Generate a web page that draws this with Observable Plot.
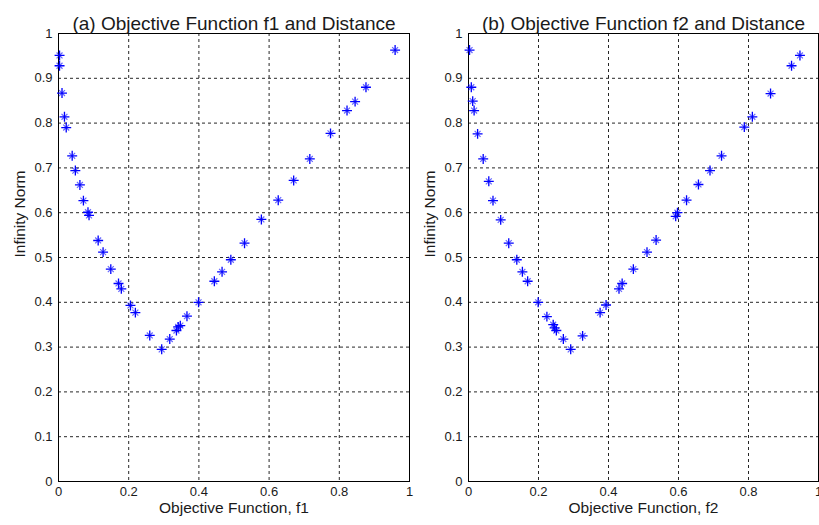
<!DOCTYPE html>
<html>
<head>
<meta charset="utf-8">
<script src="https://cdn.jsdelivr.net/npm/d3@7"></script>
<script src="https://cdn.jsdelivr.net/npm/@observablehq/plot@0.6"></script>
<style>
  html, body { margin: 0; padding: 0; background: #fff; }
  #charts { display: flex; width: 819px; height: 525px; }
  #charts svg { overflow: visible; }
</style>
</head>
<body>
<div id="charts"></div>
<script>
// Objective values of the Pareto set and their infinity-norm distance
const f1 = [0.003, 0.003, 0.010, 0.017, 0.022, 0.039, 0.048, 0.061, 0.071, 0.084, 0.087,
            0.113, 0.127, 0.149, 0.171, 0.179, 0.205, 0.219, 0.260, 0.294, 0.317, 0.336,
            0.341, 0.347, 0.366, 0.399, 0.444, 0.466, 0.491, 0.530, 0.578, 0.626, 0.670,
            0.716, 0.775, 0.822, 0.845, 0.876, 0.959];
const dist1 = [0.951, 0.928, 0.867, 0.814, 0.790, 0.727, 0.694, 0.662, 0.627, 0.601, 0.594,
               0.538, 0.512, 0.474, 0.442, 0.430, 0.393, 0.377, 0.326, 0.295, 0.318, 0.337,
               0.345, 0.348, 0.369, 0.400, 0.447, 0.468, 0.495, 0.532, 0.585, 0.628, 0.672,
               0.720, 0.777, 0.828, 0.848, 0.880, 0.963];

const f2 = [0.003, 0.008, 0.012, 0.016, 0.026, 0.042, 0.058, 0.070, 0.092, 0.115, 0.138,
            0.154, 0.169, 0.199, 0.224, 0.242, 0.246, 0.251, 0.271, 0.292, 0.326, 0.376,
            0.393, 0.430, 0.439, 0.471, 0.510, 0.536, 0.592, 0.597, 0.623, 0.657, 0.690,
            0.723, 0.788, 0.811, 0.863, 0.923, 0.947];
const dist2 = [0.963, 0.880, 0.849, 0.828, 0.776, 0.720, 0.670, 0.627, 0.584, 0.532, 0.495,
               0.468, 0.447, 0.400, 0.368, 0.350, 0.343, 0.337, 0.318, 0.295, 0.325, 0.377,
               0.394, 0.430, 0.442, 0.474, 0.512, 0.539, 0.592, 0.600, 0.628, 0.663, 0.694,
               0.727, 0.791, 0.814, 0.866, 0.928, 0.951];

const xTicks = [0, 0.2, 0.4, 0.6, 0.8, 1];
const yTicks = [0, 0.1, 0.2, 0.3, 0.4, 0.5, 0.6, 0.7, 0.8, 0.9, 1];
const titles = ["(a) Objective Function f1 and Distance", "(b) Objective Function f2 and Distance"];
const xLabels = ["Objective Function, f1", "Objective Function, f2"];
const yLabel = "Infinity Norm";

const fmt = d => String(d);

function panel(title, xLabel, xs, ys, width) {
  const data = xs.map((x, i) => ({x, y: ys[i]}));
  return Plot.plot({
    width,
    height: 525,
    marginLeft: 58,
    marginRight: 1,
    marginTop: 33,
    marginBottom: 44,
    style: {fontFamily: "'Liberation Sans', Arial, sans-serif", fontSize: "13px", color: "#1a1a1a", background: "transparent"},
    x: {domain: [0, 1]},
    y: {domain: [0, 1]},
    marks: [
      Plot.gridX(xTicks.slice(1, -1), {stroke: "#000", strokeOpacity: 0.85, strokeDasharray: "3,3"}),
      Plot.gridY(yTicks.slice(1, -1), {stroke: "#000", strokeOpacity: 0.85, strokeDasharray: "3,3"}),
      Plot.frame({stroke: "#000", strokeWidth: 1}),
      Plot.axisX({ticks: xTicks, tickFormat: fmt, tickSize: 0, tickPadding: 5, label: null, fontSize: 13}),
      Plot.axisY({ticks: yTicks, tickFormat: fmt, tickSize: 0, tickPadding: 6, label: null, fontSize: 13}),
      Plot.dot(data, {x: "x", y: "y", symbol: "times", r: 2.8, stroke: "#0000ff", strokeOpacity: 0.6, strokeWidth: 1.2}),
      Plot.dot(data, {x: "x", y: "y", symbol: "plus", r: 3.3, stroke: "#0000ff", strokeWidth: 1.3}),
      Plot.text([title], {frameAnchor: "top", dy: -17, fontSize: 19}),
      Plot.text([xLabel], {frameAnchor: "bottom", dy: 31, fontSize: 15.5}),
      Plot.text([yLabel], {frameAnchor: "left", dx: -38, rotate: -90, fontSize: 15.5})
    ]
  });
}

const root = document.getElementById("charts");
const left = panel(titles[0], xLabels[0], f1, dist1, 410);
const right = panel(titles[1], xLabels[1], f2, dist2, 409);
// keep the left panel's last tick label above the neighbouring panel
left.style.position = "relative";
left.style.zIndex = "1";
root.append(left);
root.append(right);
</script>
</body>
</html>
